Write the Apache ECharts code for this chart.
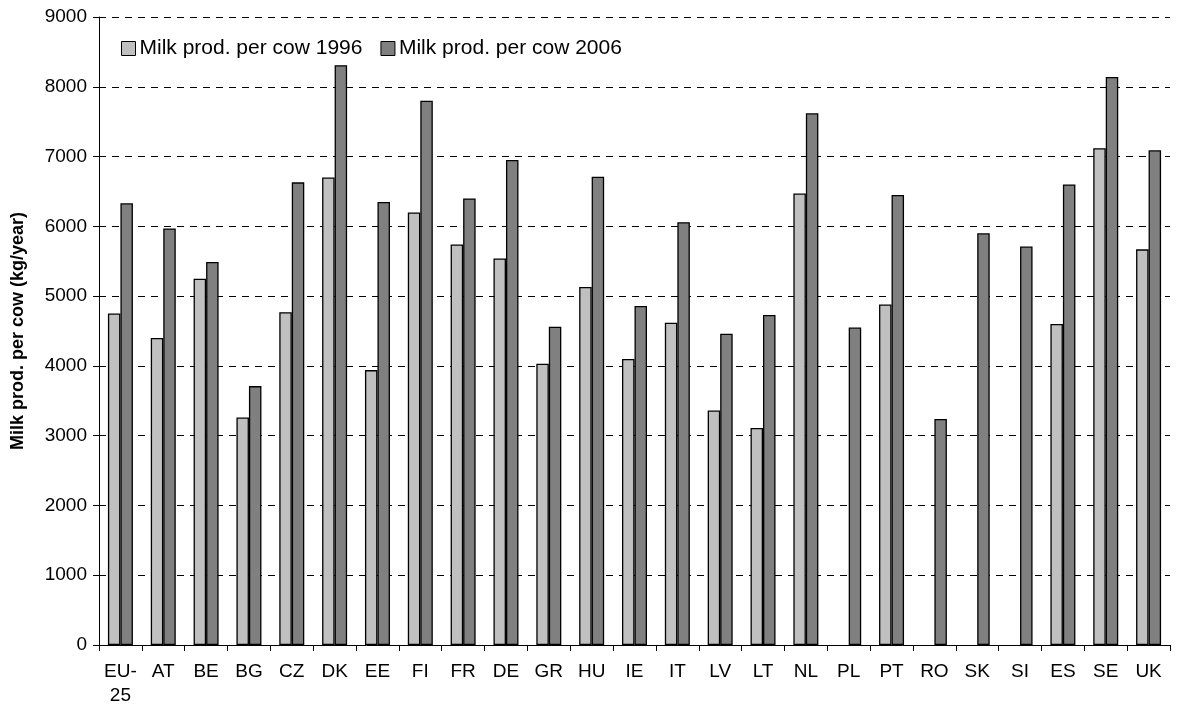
<!DOCTYPE html>
<html>
<head>
<meta charset="utf-8">
<script src="https://cdn.jsdelivr.net/npm/echarts@6/dist/echarts.min.js"></script>
<style>
  html, body { margin: 0; padding: 0; background: #fff; }
  #chart { width: 1182px; height: 708px; }
</style>
</head>
<body>
<div id="chart"></div>
<script>
// 国家/地区分类
const countries = ['EU-\n25', 'AT', 'BE', 'BG', 'CZ', 'DK', 'EE', 'FI', 'FR', 'DE', 'GR', 'HU', 'IE',
    'IT', 'LV', 'LT', 'NL', 'PL', 'PT', 'RO', 'SK', 'SI', 'ES', 'SE', 'UK'];

// 每头牛产奶量 (kg/year)
const milk1996 = [4750, 4400, 5250, 3260, 4770, 6700, 3940, 6200, 5740, 5540, 4030, 5130, 4100,
    4620, 3360, 3110, 6470, null, 4880, null, null, null, 4600, 7120, 5670];
const milk2006 = [6330, 5970, 5490, 3710, 6630, 8310, 6350, 7800, 6400, 6950, 4560, 6710, 4860,
    6060, 4460, 4730, 7620, 4550, 6450, 3240, 5900, 5710, 6600, 8140, 7090];

// y轴刻度
const yMin = 0;
const yMax = 9000;
const yStep = 1000;

const FONT = '"Liberation Sans", Arial, sans-serif';

let chart = null;
function initChart() {
    chart = echarts.init(document.getElementById('chart'));

    const option = {
        backgroundColor: '#fff',
        animation: false,
        textStyle: { fontFamily: FONT },
        legend: {
            left: 116, top: 33,
            itemWidth: 14, itemHeight: 14, itemGap: 18,
            textStyle: { fontFamily: FONT, fontSize: 21, color: '#000', padding: [0, 0, 0, -1] },
            data: [
                { name: 'Milk prod. per cow 1996', icon: 'rect', itemStyle: { borderColor: '#000', borderWidth: 1 } },
                { name: 'Milk prod. per cow 2006', icon: 'rect', itemStyle: { borderColor: '#000', borderWidth: 1 } }
            ]
        },
        grid: { left: 99, right: 12, top: 17, bottom: 63, containLabel: false },
        xAxis: {
            type: 'category',
            data: countries,
            axisLine: { lineStyle: { color: '#000', width: 1 } },
            axisTick: { show: true, alignWithLabel: false, length: 6, lineStyle: { color: '#000' } },
            axisLabel: { color: '#000', fontSize: 19, fontFamily: FONT, margin: 15, interval: 0, lineHeight: 24 }
        },
        yAxis: {
            type: 'value',
            min: yMin, max: yMax, interval: yStep,
            name: 'Milk prod. per cow (kg/year)',
            nameLocation: 'middle',
            nameGap: 72,
            nameTextStyle: { color: '#000', fontSize: 18, fontWeight: 'bold', fontFamily: FONT },
            axisLine: { show: true, lineStyle: { color: '#000', width: 1 } },
            axisTick: { show: true, length: 6, lineStyle: { color: '#000' } },
            axisLabel: { color: '#000', fontSize: 19, fontFamily: FONT, margin: 12, formatter: v => String(v) },
            splitLine: { show: true, lineStyle: { color: '#000', type: [7, 6], width: 1 } }
        },
        series: [
            {
                name: 'Milk prod. per cow 1996', type: 'bar', data: milk1996,
                barWidth: 12.5, barGap: '0%',
                itemStyle: { color: '#c0c0c0', borderColor: '#000', borderWidth: 1.3 }
            },
            {
                name: 'Milk prod. per cow 2006', type: 'bar', data: milk2006,
                barWidth: 12.5,
                itemStyle: { color: '#808080', borderColor: '#000', borderWidth: 1.3 }
            }
        ]
    };

    chart.setOption(option);
}

document.addEventListener('DOMContentLoaded', initChart);
</script>
</body>
</html>
